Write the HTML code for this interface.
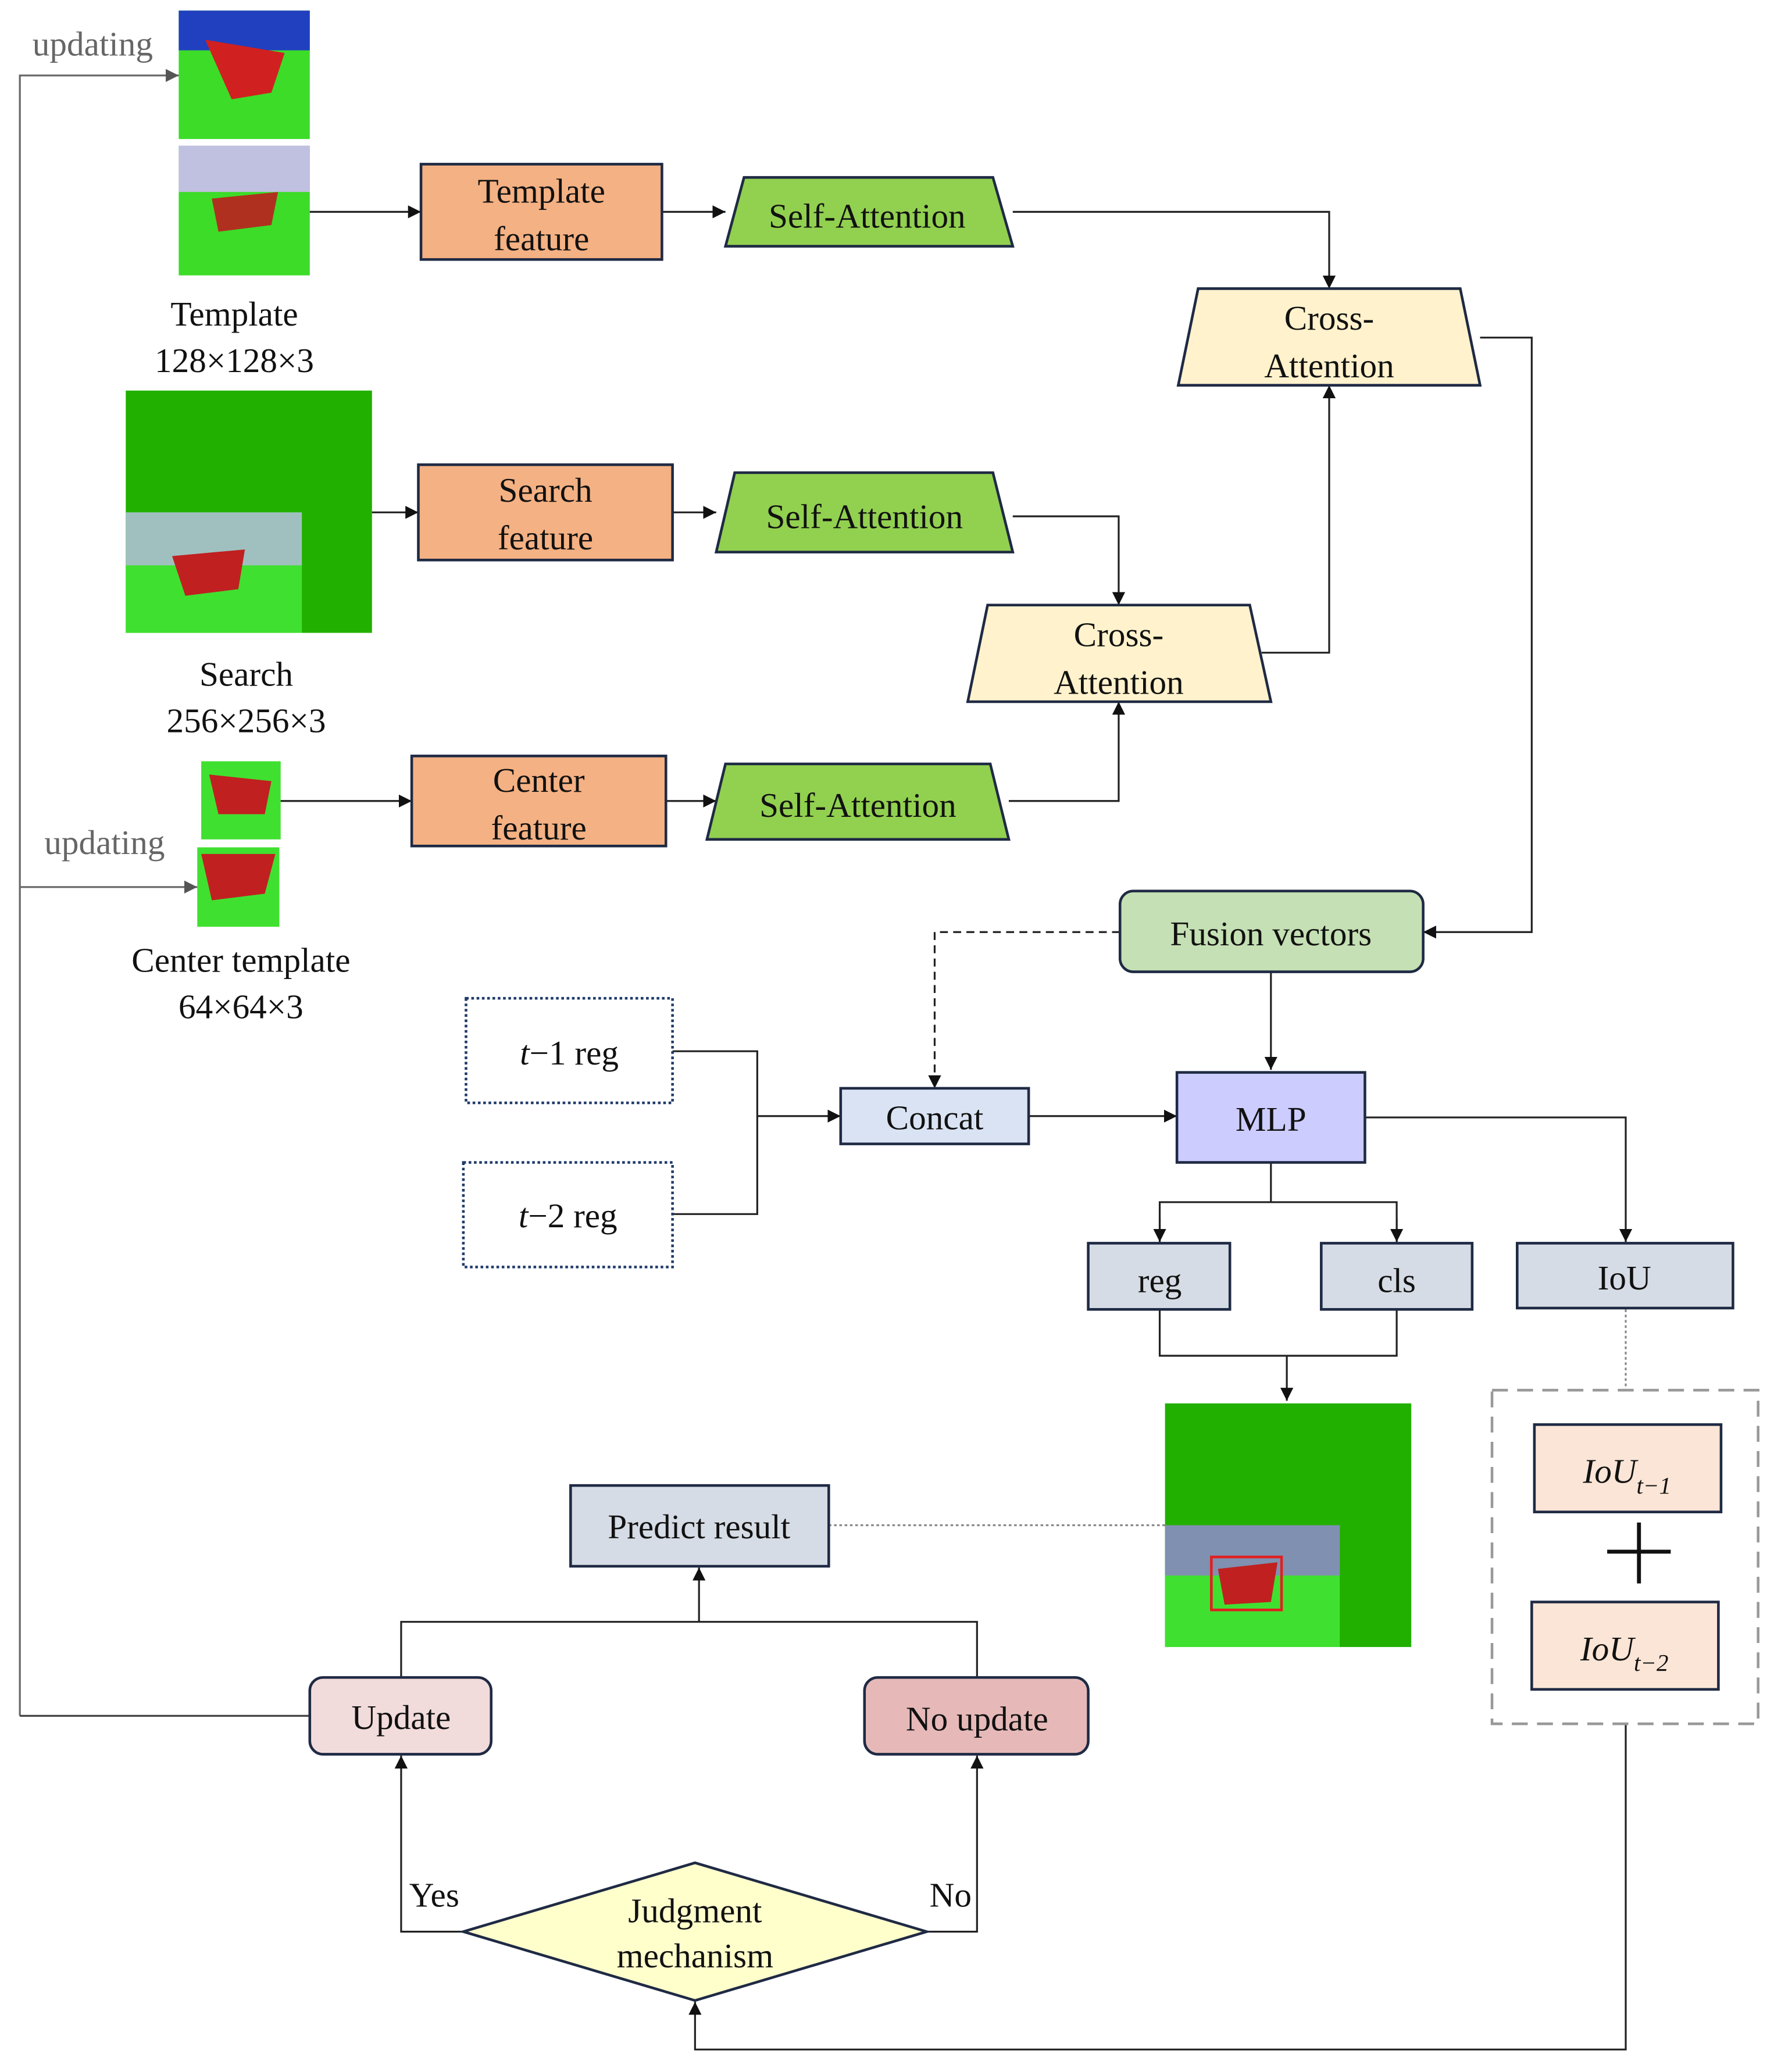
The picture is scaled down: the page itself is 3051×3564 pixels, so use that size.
<!DOCTYPE html>
<html><head><meta charset="utf-8"><style>
html,body{margin:0;padding:0;background:#fff;}
svg{display:block;}
text{font-family:"Liberation Serif",serif;font-size:26px;fill:#111;}
</style></head><body>
<svg width="3051" height="3564" viewBox="0 0 1340 1565" preserveAspectRatio="none" xmlns="http://www.w3.org/2000/svg">
<defs>
<marker id="a" viewBox="0 0 10 10" refX="10" refY="5" markerWidth="7" markerHeight="7" orient="auto"><path d="M0,0 L10,5 L0,10 z" fill="#111"/></marker>
<marker id="g" viewBox="0 0 10 10" refX="10" refY="5" markerWidth="7" markerHeight="7" orient="auto"><path d="M0,0 L10,5 L0,10 z" fill="#555"/></marker>
</defs>
<g fill="none" stroke="#222" stroke-width="1.4">
<!-- images -->
</g>
<!-- template images -->
<rect x="135" y="8" width="99" height="97" fill="#3cdc28"/>
<rect x="135" y="8" width="99" height="30" fill="#2040c0"/>
<path d="M155 30 L215 40 L205 70 L175 75 Z" fill="#d02020"/>
<rect x="135" y="110" width="99" height="98" fill="#3cdc28"/>
<rect x="135" y="110" width="99" height="35" fill="#c0c0e0"/>
<path d="M160 150 L210 145 L205 170 L165 175 Z" fill="#b03020"/>
<!-- search image -->
<rect x="95" y="295" width="186" height="183" fill="#22b000"/>
<rect x="95" y="387" width="133" height="91" fill="#40e030"/>
<rect x="95" y="387" width="133" height="40" fill="#a0c0c0"/>
<path d="M130 420 L185 415 L180 445 L140 450 Z" fill="#c02020"/>
<!-- center images -->
<rect x="152" y="575" width="60" height="59" fill="#40e030"/>
<path d="M158 585 L205 590 L200 615 L165 615 Z" fill="#c02020"/>
<rect x="149" y="640" width="62" height="60" fill="#40e030"/>
<path d="M152 645 L208 645 L200 675 L160 680 Z" fill="#c02020"/>
<!-- result image -->
<rect x="880" y="1060" width="186" height="184" fill="#22b000"/>
<rect x="880" y="1152" width="132" height="92" fill="#40e030"/>
<rect x="880" y="1152" width="132" height="38" fill="#8090b0"/>
<path d="M920 1185 L965 1180 L960 1210 L925 1212 Z" fill="#c02020"/>
<rect x="915" y="1176" width="53" height="40" fill="none" stroke="#e02020" stroke-width="2"/>

<g stroke="#222" stroke-width="1.4" fill="none">
<!-- updating lines -->
<polyline points="135,1296 15,1296" stroke="none"/>
<polyline points="15,1296 15,57 135,57" stroke="#666" marker-end="url(#g)"/>
<polyline points="15,670 149,670" stroke="#666" marker-end="url(#g)"/>
<line x1="234" y1="1296" x2="15" y2="1296" stroke="#444"/>
<line x1="234" y1="160" x2="318" y2="160" marker-end="url(#a)"/>
<line x1="500" y1="160" x2="548" y2="160" marker-end="url(#a)"/>
<polyline points="765,160 1004,160 1004,218" marker-end="url(#a)"/>
<polyline points="1118,255 1157,255 1157,704 1075,704" marker-end="url(#a)"/>
<line x1="281" y1="387" x2="316" y2="387" marker-end="url(#a)"/>
<line x1="508" y1="387" x2="541" y2="387" marker-end="url(#a)"/>
<polyline points="765,390 845,390 845,457" marker-end="url(#a)"/>
<polyline points="953,493 1004,493 1004,291" marker-end="url(#a)"/>
<line x1="212" y1="605" x2="311" y2="605" marker-end="url(#a)"/>
<line x1="503" y1="605" x2="541" y2="605" marker-end="url(#a)"/>
<polyline points="762,605 845,605 845,530" marker-end="url(#a)"/>
<polyline points="846,704 706,704 706,822" stroke-dasharray="6,4" marker-end="url(#a)"/>
<line x1="960" y1="734" x2="960" y2="808" marker-end="url(#a)"/>
<polyline points="508,794 572,794 572,917 508,917"/>
<line x1="572" y1="843" x2="635" y2="843" marker-end="url(#a)"/>
<line x1="777" y1="843" x2="889" y2="843" marker-end="url(#a)"/>
<polyline points="1031,844 1228,844 1228,938" marker-end="url(#a)"/>
<line x1="960" y1="878" x2="960" y2="908"/>
<polyline points="876,938 876,908 1055,908 1055,938"/>
<line x1="876" y1="920" x2="876" y2="938" marker-end="url(#a)"/>
<line x1="1055" y1="920" x2="1055" y2="938" marker-end="url(#a)"/>
<polyline points="876,989 876,1024 1055,1024 1055,989"/>
<line x1="972" y1="1024" x2="972" y2="1058" marker-end="url(#a)"/>
<line x1="626" y1="1152" x2="880" y2="1152" stroke="#888" stroke-dasharray="2,2"/>
<line x1="1228" y1="989" x2="1228" y2="1050" stroke="#888" stroke-dasharray="2,2"/>
<polyline points="1228,1302 1228,1548 525,1548 525,1512" marker-end="url(#a)"/>
<polyline points="303,1267 303,1225 738,1225 738,1267"/>
<line x1="528" y1="1225" x2="528" y2="1184" marker-end="url(#a)"/>
<polyline points="350,1459 303,1459 303,1326" marker-end="url(#a)"/>
<polyline points="700,1459 738,1459 738,1326" marker-end="url(#a)"/>
</g>

<g stroke="#1f2a44" stroke-width="2">
<rect x="318" y="124" width="182" height="72" fill="#f4b183"/>
<rect x="316" y="351" width="192" height="72" fill="#f4b183"/>
<rect x="311" y="571" width="192" height="68" fill="#f4b183"/>
<polygon points="548,186 562,134 750,134 765,186" fill="#92d050"/>
<polygon points="541,417 555,357 750,357 765,417" fill="#92d050"/>
<polygon points="534,634 548,577 748,577 762,634" fill="#92d050"/>
<polygon points="890,291 905,218 1103,218 1118,291" fill="#fff2cc"/>
<polygon points="731,530 746,457 944,457 960,530" fill="#fff2cc"/>
<rect x="846" y="673" width="229" height="61" rx="10" fill="#c5e0b4"/>
<rect x="635" y="822" width="142" height="42" fill="#dae3f3"/>
<rect x="889" y="810" width="142" height="68" fill="#ccccff"/>
<rect x="822" y="939" width="107" height="50" fill="#d6dce5"/>
<rect x="998" y="939" width="114" height="50" fill="#d6dce5"/>
<rect x="1146" y="939" width="163" height="49" fill="#d6dce5"/>
<rect x="431" y="1122" width="195" height="61" fill="#d6dce5"/>
<rect x="234" y="1267" width="137" height="58" rx="10" fill="#f2dcdb"/>
<rect x="653" y="1267" width="169" height="58" rx="10" fill="#e6b9b8"/>
<polygon points="350,1459 525,1407 700,1459 525,1511" fill="#ffffcc"/>
<rect x="1159" y="1076" width="141" height="66" fill="#fbe5d6"/>
<rect x="1157" y="1210" width="141" height="66" fill="#fbe5d6"/>
</g>
<g fill="none" stroke-width="2">
<rect x="352" y="754" width="156" height="79" stroke="#1f3a6a" stroke-dasharray="2,2"/>
<rect x="350" y="878" width="158" height="79" stroke="#1f3a6a" stroke-dasharray="2,2"/>
<rect x="1127" y="1050" width="201" height="252" stroke="#999" stroke-dasharray="12,7"/>
</g>
<line x1="1238" y1="1150" x2="1238" y2="1196" stroke="#111" stroke-width="3"/>
<line x1="1214" y1="1172" x2="1262" y2="1172" stroke="#111" stroke-width="3"/>

<g text-anchor="middle">
<text x="70" y="42" style="fill:#666">updating</text>
<text x="79" y="645" style="fill:#666">updating</text>
<text x="177" y="246">Template</text>
<text x="177" y="281">128×128×3</text>
<text x="186" y="518">Search</text>
<text x="186" y="553">256×256×3</text>
<text x="182" y="734">Center template</text>
<text x="182" y="769">64×64×3</text>
<text x="409" y="153">Template</text>
<text x="409" y="189">feature</text>
<text x="412" y="379">Search</text>
<text x="412" y="415">feature</text>
<text x="407" y="598">Center</text>
<text x="407" y="634">feature</text>
<text x="655" y="172">Self-Attention</text>
<text x="653" y="399">Self-Attention</text>
<text x="648" y="617">Self-Attention</text>
<text x="1004" y="249">Cross-</text>
<text x="1004" y="285">Attention</text>
<text x="845" y="488">Cross-</text>
<text x="845" y="524">Attention</text>
<text x="960" y="714">Fusion vectors</text>
<text x="430" y="804"><tspan font-style="italic">t</tspan>−1  reg</text>
<text x="429" y="927"><tspan font-style="italic">t</tspan>−2  reg</text>
<text x="706" y="853">Concat</text>
<text x="960" y="854">MLP</text>
<text x="876" y="976">reg</text>
<text x="1055" y="976">cls</text>
<text x="1227" y="974">IoU</text>
<text x="528" y="1162">Predict result</text>
<text x="303" y="1306">Update</text>
<text x="738" y="1307">No update</text>
<text x="525" y="1452">Judgment</text>
<text x="525" y="1486">mechanism</text>
<text x="328" y="1440">Yes</text>
<text x="718" y="1440">No</text>
<text x="1229" y="1120" font-style="italic">IoU<tspan font-size="18" dy="8">t−1</tspan></text>
<text x="1227" y="1254" font-style="italic">IoU<tspan font-size="18" dy="8">t−2</tspan></text>
</g>
</svg>
</body></html>
